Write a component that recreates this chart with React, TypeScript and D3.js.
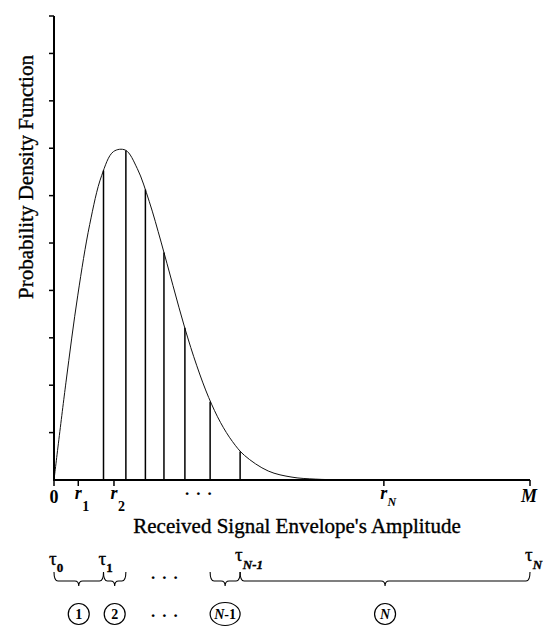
import React from "react";
import * as d3 from "d3";

// Envelope amplitude (x) and probability density (y) along the curve
const curveX = [0, 0.25, 0.5, 0.75, 1.0, 1.25, 1.5, 1.75, 2.0, 2.25, 2.5, 2.75, 3.0, 3.25, 3.5, 3.75, 4.0, 4.5, 5.0, 5.5, 6.0, 7.0, 8.0, 10.0];
const curveY = [0, 2.05, 3.9, 5.39, 6.42, 6.93, 6.96, 6.57, 5.88, 5.02, 4.1, 3.2, 2.41, 1.74, 1.21, 0.81, 0.52, 0.19, 0.06, 0.018, 0.005, 0, 0, 0];

// Quantisation thresholds tau_1 .. tau_{N-1} and the density at each
const thresholds = [1.04, 1.51, 1.92, 2.31, 2.75, 3.28, 3.91];
const thresholdPdf = [6.53, 6.95, 6.13, 4.8, 3.21, 1.65, 0.6];

// Reconstruction levels on the amplitude axis
const levelValues = [0, 0.51, 1.26, 6.93, 10];
const levelBase = ["0", "r", "r", "r", "M"];
const levelSub = ["", "1", "2", "N", ""];

const yTickValues = [1, 2, 3, 4, 5, 6, 7, 8, 9];
const X_MAX = 10;
const Y_MAX = 9.79;

// Brace intervals: [start, end] by threshold, with region labels
const braceStart = [0, thresholds[0], thresholds[5], thresholds[6]];
const braceEnd = [thresholds[0], thresholds[1], thresholds[6], X_MAX];
const braceLabel = ["1", "2", "N-1", "N"];

// Tau labels at brace boundaries
const tauValues = [0, thresholds[0], thresholds[6], X_MAX];
const tauSub = ["0", "1", "N-1", "N"];

const FONT = "'Liberation Serif', 'Times New Roman', serif";
const INK = { stroke: "#000", strokeWidth: 0.35 };

function bracePath(x1: number, x2: number, yTop: number, yMid: number, yTip: number) {
  const q = 4;
  const xm = (x1 + x2) / 2;
  return [
    `M${x1},${yTop}`,
    `Q${x1},${yMid} ${x1 + q},${yMid}`,
    `L${xm - q},${yMid}`,
    `Q${xm},${yMid} ${xm},${yTip}`,
    `Q${xm},${yMid} ${xm + q},${yMid}`,
    `L${x2 - q},${yMid}`,
    `Q${x2},${yMid} ${x2},${yTop}`,
  ].join(" ");
}

export default function App() {
  const x = d3.scaleLinear().domain([0, X_MAX]).range([54, 530]);
  const y = d3.scaleLinear().domain([0, Y_MAX]).range([480, 16]);

  const pts: [number, number][] = curveX.map((v, i) => [v, curveY[i]]);
  const line = d3
    .line<[number, number]>()
    .x((d) => x(d[0]))
    .y((d) => y(d[1]))
    .curve(d3.curveCatmullRom.alpha(0.5));

  const yTop = 572;
  const yMid = 581;
  const yTip = 586;
  const circleY = 614;

  return (
    <svg
      width={544}
      height={633}
      style={{ position: "absolute", left: 0, top: 0, background: "#fff" }}
      fontFamily={FONT}
    >
      {/* density curve */}
      <path d={line(pts) || ""} fill="none" stroke="#111" strokeWidth={1} />

      {/* threshold lines */}
      {thresholds.map((t, i) => (
        <line
          key={i}
          x1={x(t)}
          x2={x(t)}
          y1={y(0)}
          y2={y(thresholdPdf[i])}
          stroke="#000"
          strokeWidth={1.5}
        />
      ))}

      {/* axes */}
      <line x1={x(0)} x2={x(0)} y1={y(0) + 1} y2={y(Y_MAX)} stroke="#000" strokeWidth={2} />
      <line x1={x(0) - 1} x2={x(X_MAX)} y1={y(0)} y2={y(0)} stroke="#000" strokeWidth={2} />
      {[...yTickValues, Y_MAX].map((v) => (
        <line key={v} x1={x(0) - 5} x2={x(0)} y1={y(v)} y2={y(v)} stroke="#000" strokeWidth={1.5} />
      ))}
      {levelValues.map((v) => (
        <line key={v} x1={x(v)} x2={x(v)} y1={y(0)} y2={y(0) + 6} stroke="#000" strokeWidth={1.5} />
      ))}

      {/* amplitude level labels */}
      {levelValues.map((v, i) => {
        const base = levelBase[i];
        if (base === "0")
          return (
            <text key={i} x={x(v)} y={503} textAnchor="middle" fontSize={18} fontWeight="bold">
              0
            </text>
          );
        if (base === "M")
          return (
            <text key={i} x={x(v) - 1} y={502} textAnchor="middle" fontSize={18} fontWeight="bold" fontStyle="italic">
              M
            </text>
          );
        const isN = levelSub[i] === "N";
        return (
          <text key={i} x={x(v) - 3.5} y={499} fontSize={18} fontWeight="bold" fontStyle="italic">
            r
            <tspan
              dx={isN ? 0 : 0.5}
              dy={isN ? 7 : 12}
              fontSize={isN ? 12 : 14}
              fontStyle={isN ? "italic" : "normal"}
            >
              {levelSub[i]}
            </tspan>
          </text>
        );
      })}
      <text x={185} y={495} fontSize={17} fontWeight="bold" letterSpacing={7}>
        ...
      </text>

      {/* axis titles */}
      <text x={297} y={533} textAnchor="middle" fontSize={21} {...INK}>
        Received Signal Envelope's Amplitude
      </text>
      <text transform="translate(33,177) rotate(-90)" textAnchor="middle" fontSize={21} {...INK}>
        Probability Density Function
      </text>

      {/* braces over quantisation regions */}
      {braceStart.map((s, i) => (
        <path
          key={i}
          d={bracePath(x(s), x(braceEnd[i]), yTop, yMid, yTip)}
          fill="none"
          stroke="#000"
          strokeWidth={1.1}
        />
      ))}
      <text x={151} y={579} fontSize={17} fontWeight="bold" letterSpacing={7}>
        ...
      </text>

      {/* tau boundary labels */}
      {tauValues.map((v, i) => {
        const big = i >= 2;
        return (
          <text key={i} x={x(v) - 5} y={big ? 561 : 565} fontSize={19} {...INK}>
            τ
            <tspan
              dy={big ? 8 : 7}
              fontSize={13}
              fontWeight="bold"
              fontStyle={big ? "italic" : "normal"}
            >
              {tauSub[i]}
            </tspan>
          </text>
        );
      })}

      {/* region index circles */}
      {braceStart.map((s, i) => {
        const cx = (x(s) + x(braceEnd[i])) / 2;
        const wide = braceLabel[i].length > 1;
        const lab = braceLabel[i];
        return (
          <g key={i}>
            <ellipse cx={cx} cy={circleY} rx={wide ? 15 : 10.5} ry={wide ? 11.5 : 10.5} fill="none" stroke="#000" strokeWidth={1.2} />
            <text x={cx} y={circleY + 5} textAnchor="middle" fontSize={14} fontWeight="bold">
              {lab.startsWith("N") ? (
                <>
                  <tspan fontStyle="italic">N</tspan>
                  {lab.slice(1)}
                </>
              ) : (
                lab
              )}
            </text>
          </g>
        );
      })}
      <text x={151} y={617} fontSize={17} fontWeight="bold" letterSpacing={7}>
        ...
      </text>
    </svg>
  );
}
